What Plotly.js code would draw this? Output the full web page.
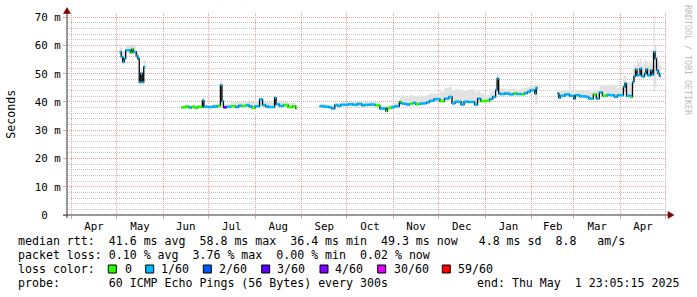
<!DOCTYPE html>
<html><head><meta charset="utf-8">
<script src="https://cdn.plot.ly/plotly-3.0.1.min.js"></script>
<style>html,body{margin:0;padding:0;background:#fff;}#chart{width:697px;height:297px;}</style>
</head><body><div id="chart"></div>
<script>
// ---- data ----
const dates = [
 "2024-05-03","2024-05-04","2024-05-05","2024-05-06","2024-05-07","2024-05-10","2024-05-11","2024-05-12","2024-05-14","2024-05-15","2024-05-16","2024-05-17","2024-05-18","2024-05-19","2024-05-20",
 "2024-05-21",
 "2024-06-13","2024-06-16","2024-06-18","2024-06-20","2024-06-22","2024-06-24","2024-06-27","2024-06-28","2024-07-01","2024-07-04","2024-07-07","2024-07-09","2024-07-10","2024-07-11","2024-07-13","2024-07-16","2024-07-19","2024-07-21","2024-07-23","2024-07-26","2024-07-28","2024-07-30","2024-08-01","2024-08-04","2024-08-06","2024-08-08","2024-08-10","2024-08-14","2024-08-15","2024-08-17","2024-08-20","2024-08-23","2024-08-26","2024-08-28","2024-08-29",
 "2024-08-30",
 "2024-09-13","2024-09-16","2024-09-19","2024-09-21","2024-09-23","2024-09-25","2024-09-27","2024-09-30",
 "2024-10-02","2024-10-05","2024-10-08","2024-10-11","2024-10-13","2024-10-16","2024-10-20","2024-10-23","2024-10-27","2024-10-28","2024-10-31",
 "2024-11-02","2024-11-05","2024-11-06","2024-11-08","2024-11-10","2024-11-12","2024-11-14","2024-11-16","2024-11-18","2024-11-20","2024-11-23","2024-11-25","2024-11-28",
 "2024-12-02","2024-12-05","2024-12-08","2024-12-10","2024-12-12","2024-12-16","2024-12-18","2024-12-21","2024-12-25","2024-12-27","2024-12-29",
 "2025-01-01","2025-01-04","2025-01-06","2025-01-08","2025-01-09","2025-01-10","2025-01-11","2025-01-14","2025-01-17","2025-01-20","2025-01-22","2025-01-25","2025-01-27","2025-01-29","2025-01-31",
 "2025-02-03","2025-02-04","2025-02-05",
 "2025-02-06",
 "2025-02-18","2025-02-19","2025-02-20","2025-02-23","2025-02-26","2025-02-27",
 "2025-03-01","2025-03-02","2025-03-05","2025-03-09","2025-03-11","2025-03-14","2025-03-16","2025-03-18","2025-03-20","2025-03-23","2025-03-25","2025-03-28","2025-03-30",
 "2025-04-03","2025-04-04","2025-04-05","2025-04-08","2025-04-09","2025-04-10","2025-04-11","2025-04-12","2025-04-13","2025-04-14","2025-04-15","2025-04-16","2025-04-17","2025-04-18","2025-04-19","2025-04-20","2025-04-21","2025-04-22","2025-04-23","2025-04-24","2025-04-25","2025-04-26","2025-04-27","2025-04-28"
];
// median rtt in ms (null = no data)
const medianMs = [
 57.7,56.0,54.2,55.4,58.3,57.5,58.7,57.7,56.3,55.4,47.0,50.1,47.0,52.4,52.4,
 null,
 38.1,38.4,38.0,38.3,37.9,38.3,40.6,38.3,38.2,38.4,38.6,46.0,40.3,38.1,38.3,38.5,38.2,38.7,38.6,38.9,38.4,37.9,38.5,40.9,38.9,38.4,38.2,41.5,39.2,38.6,38.9,38.2,38.5,37.8,37.8,
 null,
 38.5,38.3,38.1,37.7,38.9,38.6,39.0,39.0,
 39.2,39.0,39.3,38.8,39.0,39.1,38.8,37.7,36.8,37.9,38.2,
 38.5,40.1,39.5,39.3,39.1,39.4,39.7,39.2,39.4,39.5,39.9,40.4,41.0,
 40.3,41.2,41.8,39.5,40.1,39.1,40.1,40.0,39.1,41.2,40.3,
 40.4,41.0,41.8,44.2,48.3,43.0,42.8,43.0,42.7,43.0,42.8,42.7,43.1,43.6,44.2,
 43.0,45.0,45.0,
 null,
 43.0,41.5,42.2,42.7,42.2,42.2,
 41.2,42.4,42.0,41.8,41.2,42.7,41.2,43.4,42.2,42.5,42.4,41.8,42.4,
 45.4,46.6,42.2,41.8,47.1,49.1,51.5,49.5,49.7,51.8,49.2,49.0,50.1,51.6,49.5,49.4,51.2,49.7,57.7,55.4,51.3,50.1,49.2,49.2
];
// packet loss (pings lost out of 60) for each step
const lossCount = [
 1,1,1,1,1,0,0,1,1,1,1,1,1,1,null,
 null,
 0,0,1,0,0,0,1,1,1,1,0,1,1,3,1,0,1,1,0,1,1,0,1,1,1,1,1,1,1,1,0,0,0,0,null,
 null,
 1,1,1,1,1,1,1,1,
 1,1,1,1,1,1,0,1,0,0,1,
 1,0,1,1,1,0,1,0,1,1,1,1,1,
 0,1,1,1,1,1,1,1,1,1,0,
 0,1,1,1,1,1,1,1,1,0,1,0,1,1,1,
 1,1,null,
 null,
 1,1,1,1,1,1,
 1,1,1,1,1,0,1,1,0,1,1,1,1,
 1,1,1,0,1,1,1,1,1,1,1,1,1,1,1,1,1,1,1,1,1,1,1,null
];
// smoke (ping spread) lower / upper bounds in ms
const smokeLo = [
 57.0,55.2,53.5,54.6,57.5,56.9,58.0,57.0,55.6,54.6,46.0,46.6,46.3,51.6,51.6,
 null,
 37.8,38.1,37.7,38.0,37.6,38.0,38.2,38.0,37.9,38.1,38.3,39.0,38.5,37.8,38.0,38.2,37.9,38.3,38.3,38.5,38.1,37.6,38.2,38.6,38.5,38.1,37.9,38.5,38.8,38.3,38.6,37.9,38.2,37.5,37.5,
 null,
 38.1,37.9,37.7,37.3,38.5,38.2,38.6,38.6,
 38.8,38.6,38.9,38.4,38.6,38.7,38.5,37.2,36.4,37.5,37.8,
 38.1,39.6,39.1,38.9,38.7,39.0,39.3,38.8,39.0,39.1,39.5,40.0,40.5,
 39.8,40.8,41.3,39.1,39.7,38.7,39.7,39.6,38.7,40.7,39.9,
 40.0,40.5,41.3,43.5,46.0,42.5,42.4,42.6,42.3,42.6,42.4,42.3,42.7,43.1,43.5,
 39.0,39.5,39.5,
 null,
 42.5,41.1,41.8,42.3,41.8,41.8,
 40.8,42.0,41.6,41.4,40.8,42.3,40.8,42.8,41.8,42.1,42.0,41.4,42.0,
 43.5,44.5,41.8,41.4,45.0,48.0,48.8,48.6,48.8,49.0,48.5,48.3,49.0,49.2,48.6,48.6,49.0,48.8,43.6,45.0,49.5,49.0,48.5,48.5
];
const smokeHi = [
 60.0,59.0,57.6,58.2,60.2,59.8,60.5,59.6,58.4,57.5,49.6,51.6,49.2,55.0,55.0,
 null,
 38.7,39.0,38.6,38.9,38.6,39.0,41.2,39.0,39.0,39.2,39.4,47.6,41.2,39.2,39.4,39.8,40.0,40.3,40.2,40.4,40.0,40.0,40.3,41.6,40.5,40.3,40.2,42.2,40.6,40.2,40.3,39.6,39.6,38.6,38.6,
 null,
 39.3,39.2,39.0,38.8,39.8,39.6,40.0,40.0,
 40.0,40.0,40.2,39.8,40.0,40.3,39.9,38.8,38.0,38.9,39.4,
 39.8,41.5,42.4,42.0,41.6,42.5,42.0,41.8,42.4,42.0,42.5,43.0,43.0,
 43.5,45.0,45.4,44.2,44.5,43.8,44.0,44.5,43.5,44.2,43.0,
 42.5,43.5,44.0,47.0,50.1,45.5,44.8,44.5,44.6,44.8,44.4,44.8,45.0,45.2,46.0,
 45.5,46.0,46.0,
 null,
 44.0,43.5,44.0,44.2,51.9,44.0,
 43.5,44.0,44.0,43.8,43.6,44.0,44.0,46.0,46.0,46.0,45.8,46.0,45.0,
 49.5,49.5,47.0,45.0,52.5,53.5,53.0,55.0,54.0,55.5,53.0,53.5,55.0,54.5,53.0,54.0,53.5,53.0,70.7,60.0,55.5,54.5,53.0,53.0
];
const lossLevels = [0, 1, 2, 3, 4, 30, 59];
const lossLabels = ["0", "1/60", "2/60", "3/60", "4/60", "30/60", "59/60"];
const lossColors = ["#26ff00", "#00b8ff", "#0059ff", "#5e00ff", "#7e00ff", "#dd00ff", "#ff0000"];
const yTickVals = [0, 10, 20, 30, 40, 50, 60, 70];
const yTickText = ["0  ", "10 m", "20 m", "30 m", "40 m", "50 m", "60 m", "70 m"];
const xRange = ["2024-03-28 23:05:15", "2025-05-01 23:05:15"];
const rttStats = "median rtt:  41.6 ms avg  58.8 ms max  36.4 ms min  49.3 ms now   4.8 ms sd  8.8   am/s";
const lossStats = "packet loss: 0.10 % avg  3.76 % max  0.00 % min  0.02 % now";
const lossColorLabel = "loss color:";
const probeText = "probe:       60 ICMP Echo Pings (56 Bytes) every 300s";
const endText = "end: Thu May  1 23:05:15 2025";
const yTitle = "Seconds";
const watermark = "RRDTOOL / TOBI OETIKER";

// ---- build traces ----
const nb = s => s.replace(/ /g, "\u00a0");
const traces = [];
let i = 0;
while (i < dates.length) {
  if (medianMs[i] === null) { i++; continue; }
  let j = i;
  while (j + 1 < dates.length && medianMs[j + 1] !== null) j++;
  const xs = dates.slice(i, j + 1);
  traces.push({x: xs, y: smokeLo.slice(i, j + 1), mode: "lines", line: {shape: "hv", width: 0}, hoverinfo: "skip", showlegend: false});
  traces.push({x: xs, y: smokeHi.slice(i, j + 1), mode: "lines", line: {shape: "hv", width: 0}, fill: "tonexty", fillcolor: "#e2e2e2", hoverinfo: "skip", showlegend: false});
  i = j + 1;
}
traces.push({x: dates, y: medianMs, mode: "lines", line: {shape: "hv", color: "#000", width: 1.3}, connectgaps: false, hoverinfo: "skip", showlegend: false});
lossLevels.forEach((lv, k) => {
  const xs = [], ys = [];
  for (let n = 0; n < dates.length - 1; n++) {
    if (lossCount[n] === lv && medianMs[n] !== null) {
      xs.push(dates[n], dates[n + 1], null);
      ys.push(medianMs[n], medianMs[n], null);
    }
  }
  if (xs.length) traces.push({x: xs, y: ys, mode: "lines", line: {color: lossColors[k], width: 2.6}, connectgaps: false, hoverinfo: "skip", showlegend: false});
});

// ---- layout helpers (pixel -> paper) ----
const W = 697, H = 297, PL = 67, PT = 13, PW = 600, PH = 202;
const px = x => (x - PL) / PW;
const py = y => (PT + PH - y) / PH;
const mono = "DejaVu Sans Mono, monospace";
const fs = 11.6;
const majorGrid = "#e9a0a0";
const minorGrid = "#c6c6c6";

const shapes = [
  {type: "line", xref: "paper", yref: "paper", x0: px(67), x1: px(67), y0: py(218), y1: py(13), line: {color: "#333", width: 1}},
  {type: "line", xref: "paper", yref: "paper", x0: px(63), x1: px(668), y0: py(215), y1: py(215), line: {color: "#333", width: 1}},
  {type: "path", xref: "paper", yref: "paper", path: `M ${px(63.5)},${py(13.5)} L ${px(67)},${py(7.5)} L ${px(70.5)},${py(13.5)} Z`, fillcolor: "#7f0000", line: {color: "#7f0000", width: 0.5}},
  {type: "path", xref: "paper", yref: "paper", path: `M ${px(668)},${py(211.5)} L ${px(674)},${py(215)} L ${px(668)},${py(218.5)} Z`, fillcolor: "#7f0000", line: {color: "#7f0000", width: 0.5}}
];
const boxX = [108.3, 145.7, 203.3, 261.7, 320, 377.7, 442.3];
const labX = [122.5, 159, 216.5, 275, 333, 391.5, 455.8];
lossColors.forEach((c, k) => {
  shapes.push({type: "rect", xref: "paper", yref: "paper", x0: px(boxX[k]), x1: px(boxX[k] + 8), y0: py(273), y1: py(265), fillcolor: c, line: {color: "#000", width: 1}});
});

const ann = (text, x, y, opts) => Object.assign({text: nb(text), xref: "paper", yref: "paper", x: px(x), y: py(y), xanchor: "left", yanchor: "middle", showarrow: false, font: {family: mono, size: fs, color: "#000"}}, opts || {});
const annotations = [
  ann(rttStats, 16, 241),
  ann(lossStats, 16, 255),
  ann(lossColorLabel, 16, 269),
  ann(probeText, 16, 283),
  ann(endText, 681, 283, {xanchor: "right"}),
  ann(yTitle, 10.7, 114, {xanchor: "center", textangle: -90}),
  ann(watermark, 688, 60, {xanchor: "center", textangle: 90, font: {family: mono, size: 8.3, color: "#bdbdbd"}})
];
lossLabels.forEach((t, k) => annotations.push(ann(t, labX[k], 269)));

const layout = {
  width: W, height: H,
  margin: {l: PL, r: W - PL - PW, t: PT, b: H - PT - PH, pad: 0},
  paper_bgcolor: "#fff", plot_bgcolor: "#fff",
  showlegend: false,
  xaxis: {
    type: "date", range: xRange, dtick: "M1", tick0: "2024-04-01", tickformat: "%b",
    ticklabelmode: "period", showgrid: true, gridcolor: majorGrid, griddash: "1px,1px", gridwidth: 1,
    ticks: "outside", ticklen: 3, tickcolor: majorGrid, showline: false, zeroline: false,
    ticklabelstandoff: -2,
    tickfont: {family: mono, size: 10.8, color: "#000"}, fixedrange: true
  },
  yaxis: {
    range: [0, 71.5], tickmode: "array", tickvals: yTickVals, ticktext: yTickText.map(nb),
    showgrid: true, gridcolor: majorGrid, griddash: "1px,1px", gridwidth: 1,
    minor: {dtick: 2, tick0: 0, showgrid: true, gridcolor: minorGrid, griddash: "1px,1px", gridwidth: 1, ticks: ""},
    ticks: "outside", ticklen: 3, tickcolor: majorGrid, showline: false, zeroline: false,
    tickfont: {family: mono, size: 10.8, color: "#000"}, fixedrange: true
  },
  shapes: shapes,
  annotations: annotations
};
Plotly.newPlot("chart", traces, layout, {staticPlot: true, displayModeBar: false});
</script>
</body></html>
